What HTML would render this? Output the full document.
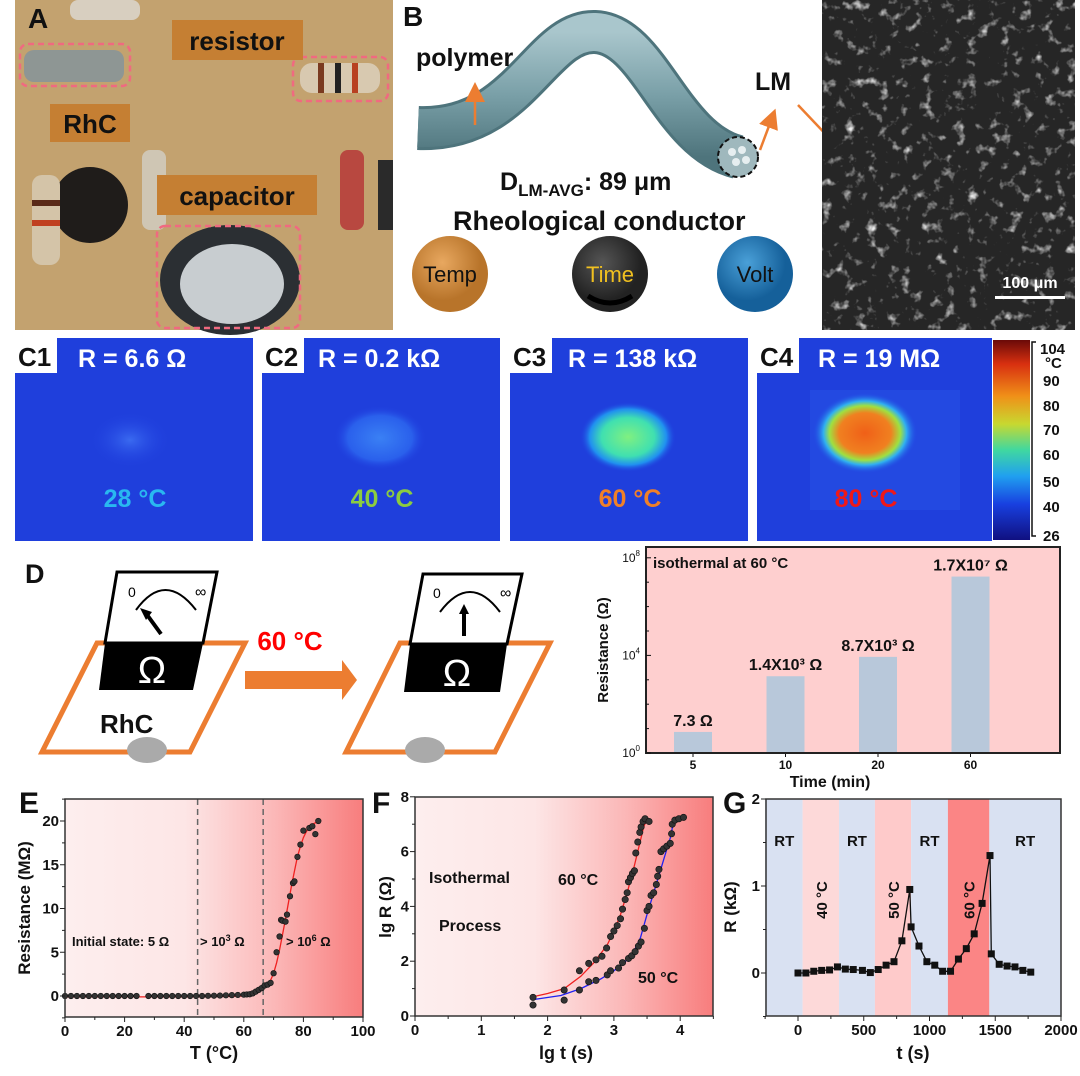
<!DOCTYPE html>
<html><head><meta charset="utf-8"><style>
html,body{margin:0;padding:0;background:#fff;}
svg text{font-family:"Liberation Sans",sans-serif;}
</style></head><body>
<svg id="fig" width="1080" height="1071" viewBox="0 0 1080 1071" xmlns="http://www.w3.org/2000/svg">
<defs>
<linearGradient id="heatBg" x1="0" x2="1" y1="0" y2="0">
<stop offset="0" stop-color="#fdeeee"/><stop offset="0.4" stop-color="#fde6e6"/><stop offset="0.7" stop-color="#fbb8b8"/><stop offset="1" stop-color="#f87d7d"/></linearGradient>
<linearGradient id="cbar" x1="0" x2="0" y1="0" y2="1">
<stop offset="0" stop-color="#6a0a08"/><stop offset="0.12" stop-color="#d83010"/><stop offset="0.28" stop-color="#f09018"/><stop offset="0.42" stop-color="#c8d830"/><stop offset="0.55" stop-color="#40d8a0"/><stop offset="0.68" stop-color="#20a0f0"/><stop offset="0.82" stop-color="#1840e0"/><stop offset="1" stop-color="#101080"/></linearGradient>
<radialGradient id="spot3"><stop offset="0" stop-color="#80f080"/><stop offset="0.55" stop-color="#40e0b0"/><stop offset="0.8" stop-color="#2090f0"/><stop offset="1" stop-color="#2040e0" stop-opacity="0"/></radialGradient>
<radialGradient id="spot4"><stop offset="0" stop-color="#f06018"/><stop offset="0.5" stop-color="#f08020"/><stop offset="0.68" stop-color="#a0e040"/><stop offset="0.8" stop-color="#30b0f0"/><stop offset="1" stop-color="#2050e8" stop-opacity="0"/></radialGradient>
<radialGradient id="spotFaint"><stop offset="0" stop-color="#3a6af0"/><stop offset="1" stop-color="#2040e0" stop-opacity="0"/></radialGradient>
<radialGradient id="spotMid"><stop offset="0" stop-color="#3a80f4"/><stop offset="0.7" stop-color="#2a60ec"/><stop offset="1" stop-color="#2040e0" stop-opacity="0"/></radialGradient>
<radialGradient id="ballO" cx="0.4" cy="0.35"><stop offset="0" stop-color="#e8a860"/><stop offset="1" stop-color="#b8742a"/></radialGradient>
<radialGradient id="ballK" cx="0.4" cy="0.35"><stop offset="0" stop-color="#555"/><stop offset="1" stop-color="#222"/></radialGradient>
<radialGradient id="ballB" cx="0.4" cy="0.35"><stop offset="0" stop-color="#4aa0d8"/><stop offset="1" stop-color="#15609a"/></radialGradient>
<linearGradient id="tube" x1="0" x2="0" y1="0" y2="1"><stop offset="0" stop-color="#a9c6cc"/><stop offset="0.5" stop-color="#7aa0a8"/><stop offset="1" stop-color="#4e747c"/></linearGradient>
<filter id="semTex" filterUnits="userSpaceOnUse" x="822" y="0" width="253" height="330"><feTurbulence type="fractalNoise" baseFrequency="0.09" numOctaves="3" seed="4"/><feColorMatrix type="matrix" values="0 0 0 0 0.85  0 0 0 0 0.85  0 0 0 0 0.85  3 0 0 0 -1.75"/></filter>
<clipPath id="semClip"><rect x="822" y="0" width="253" height="330"/></clipPath>
<marker id="arrO" markerWidth="8" markerHeight="8" refX="4" refY="4" orient="auto"><path d="M0,0 L8,4 L0,8 Z" fill="#ec7d31"/></marker>
</defs>

<!-- Panel A photo -->
<g>
<rect x="15" y="0" width="378" height="330" fill="#c9aa78"/>
<rect x="15" y="0" width="378" height="330" fill="#b8955e" opacity="0.35"/>
<rect x="70" y="0" width="70" height="20" rx="8" fill="#d8cfc0"/>
<rect x="24" y="50" width="100" height="32" rx="10" fill="#8e9694"/>
<rect x="300" y="63" width="80" height="30" rx="12" fill="#d8c9b0"/>
<rect x="318" y="63" width="6" height="30" fill="#7a3a20"/><rect x="335" y="63" width="6" height="30" fill="#222"/><rect x="352" y="63" width="6" height="30" fill="#b84020"/>
<circle cx="90" cy="205" r="38" fill="#1f1c1a"/>
<rect x="32" y="175" width="28" height="90" rx="10" fill="#d4c4a8"/>
<rect x="32" y="200" width="28" height="6" fill="#5a2a18"/><rect x="32" y="220" width="28" height="6" fill="#c04020"/>
<rect x="142" y="150" width="24" height="80" rx="8" fill="#cfc6b4"/>
<ellipse cx="230" cy="280" rx="70" ry="55" fill="#2b2f33"/>
<ellipse cx="232" cy="284" rx="52" ry="40" fill="#c8cdd0"/>
<rect x="340" y="150" width="24" height="80" rx="8" fill="#b84840"/>
<rect x="378" y="160" width="15" height="70" fill="#2a2a2a"/>
<rect x="20" y="44" width="110" height="42" rx="8" fill="none" stroke="#f06a80" stroke-width="2.5" stroke-dasharray="6,4"/>
<rect x="293" y="57" width="95" height="44" rx="8" fill="none" stroke="#f06a80" stroke-width="2.5" stroke-dasharray="6,4"/>
<rect x="157" y="226" width="143" height="102" rx="8" fill="none" stroke="#f06a80" stroke-width="2.5" stroke-dasharray="6,4"/>
<rect x="172" y="20" width="131" height="40" fill="#c57f33"/>
<text x="237" y="50" font-size="26" font-weight="bold" text-anchor="middle" fill="#111">resistor</text>
<rect x="50" y="104" width="80" height="38" fill="#c57f33"/>
<text x="90" y="133" font-size="26" font-weight="bold" text-anchor="middle" fill="#111">RhC</text>
<rect x="157" y="175" width="160" height="40" fill="#c57f33"/>
<text x="237" y="205" font-size="26" font-weight="bold" text-anchor="middle" fill="#111">capacitor</text>
<text x="28" y="28" font-size="28" font-weight="bold" fill="#111">A</text>
</g>

<!-- Panel B -->
<g>
<text x="403" y="26" font-size="28" font-weight="bold" fill="#111">B</text>
<path d="M418,128 C520,132 540,30 595,32 C650,34 670,140 738,157" fill="none" stroke="#4e747c" stroke-width="44"/>
<path d="M418,128 C520,132 540,30 595,32 C650,34 670,140 738,157" fill="none" stroke="url(#tube)" stroke-width="38"/>
<text x="416" y="66" font-size="25" font-weight="bold" fill="#111">polymer</text>
<circle cx="738" cy="157" r="20" fill="#9fb8bd" stroke="#111" stroke-width="2" stroke-dasharray="5,3"/>
<circle cx="732" cy="152" r="4" fill="#e6eef0"/><circle cx="742" cy="150" r="4" fill="#e6eef0"/><circle cx="736" cy="162" r="4" fill="#e6eef0"/><circle cx="746" cy="160" r="4" fill="#e6eef0"/>
<line x1="475" y1="125" x2="475" y2="92" stroke="#ec7d31" stroke-width="2.5" marker-end="url(#arrO)"/>
<line x1="760" y1="150" x2="772" y2="118" stroke="#ec7d31" stroke-width="2.5" marker-end="url(#arrO)"/>
<text x="755" y="90" font-size="25" font-weight="bold" fill="#111">LM</text>
<line x1="798" y1="105" x2="852" y2="162" stroke="#ec7d31" stroke-width="2.5"/>
<text x="500" y="190" font-size="25" font-weight="bold" fill="#111">D<tspan font-size="17" dy="6">LM-AVG</tspan><tspan dy="-6">: 89 μm</tspan></text>
<text x="453" y="230" font-size="27" font-weight="bold" fill="#111">Rheological conductor</text>
<circle cx="450" cy="274" r="38" fill="url(#ballO)"/>
<text x="450" y="282" font-size="22" text-anchor="middle" fill="#111">Temp</text>
<circle cx="610" cy="274" r="38" fill="url(#ballK)"/>
<path d="M588,296 Q610,310 632,296" stroke="#000" stroke-width="5" fill="none"/>
<text x="610" y="282" font-size="22" text-anchor="middle" fill="#f0c020">Time</text>
<circle cx="755" cy="274" r="38" fill="url(#ballB)"/>
<text x="755" y="282" font-size="22" text-anchor="middle" fill="#111">Volt</text>
</g>
<g clip-path="url(#semClip)">
<rect x="822" y="0" width="253" height="330" fill="#262626"/>
<rect x="822" y="0" width="253" height="330" filter="url(#semTex)"/>
<rect x="995" y="296" width="70" height="3" fill="#fff"/>
<text x="1030" y="288" font-size="16" font-weight="bold" fill="#fff" text-anchor="middle">100 μm</text>
</g>

<!-- Panel C thermal -->
<g>
<rect x="15" y="338" width="238" height="203" fill="#1f3fdc"/>
<ellipse cx="130" cy="440" rx="40" ry="28" fill="url(#spotFaint)"/>
<rect x="262" y="338" width="238" height="203" fill="#1f3fdc"/>
<ellipse cx="380" cy="438" rx="46" ry="32" fill="url(#spotMid)"/>
<rect x="510" y="338" width="238" height="203" fill="#1f3fdc"/>
<ellipse cx="628" cy="437" rx="48" ry="35" fill="url(#spot3)"/>
<rect x="757" y="338" width="235" height="203" fill="#1f3fdc"/>
<rect x="810" y="390" width="150" height="120" fill="#2a5ae8" opacity="0.4"/>
<ellipse cx="865" cy="433" rx="52" ry="40" fill="url(#spot4)"/>
<rect x="993" y="340" width="37" height="200" fill="url(#cbar)"/>
<g font-size="15" font-weight="bold" fill="#111">
<text x="1040" y="354">104</text><text x="1045" y="368">°C</text><text x="1043" y="386">90</text><text x="1043" y="411">80</text><text x="1043" y="435">70</text><text x="1043" y="460">60</text><text x="1043" y="487">50</text><text x="1043" y="512">40</text><text x="1043" y="541">26</text>
</g>
<path d="M1036,342 h-4 v194 h4" stroke="#111" fill="none" stroke-width="1.5"/>
<rect x="15" y="338" width="42" height="35" fill="#fff"/><text x="18" y="366" font-size="26" font-weight="bold" fill="#111">C1</text>
<rect x="262" y="338" width="42" height="35" fill="#fff"/><text x="265" y="366" font-size="26" font-weight="bold" fill="#111">C2</text>
<rect x="510" y="338" width="42" height="35" fill="#fff"/><text x="513" y="366" font-size="26" font-weight="bold" fill="#111">C3</text>
<rect x="757" y="338" width="42" height="35" fill="#fff"/><text x="760" y="366" font-size="26" font-weight="bold" fill="#111">C4</text>
<g font-size="25" font-weight="bold" fill="#fff">
<text x="78" y="367">R = 6.6 Ω</text><text x="318" y="367">R = 0.2 kΩ</text><text x="568" y="367">R = 138 kΩ</text><text x="818" y="367">R = 19 MΩ</text>
</g>
<g font-size="25" font-weight="bold" text-anchor="middle">
<text x="135" y="507" fill="#29b8f0">28 °C</text><text x="382" y="507" fill="#8ccc40">40 °C</text><text x="630" y="507" fill="#f08028">60 °C</text><text x="866" y="507" fill="#f01818">80 °C</text>
</g>
</g>

<!-- Panel D schematic -->
<g>
<text x="25" y="583" font-size="27" font-weight="bold" fill="#111">D</text>
<path d="M42,752 L97,643 L245,643 L190,752 Z" fill="none" stroke="#ec7d31" stroke-width="5"/>
<path d="M117,572 L217,572 L203,643 L105,643 Z" fill="#fff" stroke="#000" stroke-width="3"/>
<path d="M105,643 L203,643 L193,690 L99,690 Z" fill="#000"/>
<text x="152" y="683" font-size="38" fill="#fff" text-anchor="middle">Ω</text>
<path d="M136,610 Q165,570 196,610" fill="none" stroke="#000" stroke-width="2"/>
<line x1="161" y1="634" x2="145" y2="612" stroke="#000" stroke-width="4"/>
<path d="M140,608 L146,620 L152,612 Z" fill="#000"/>
<text x="128" y="597" font-size="14" fill="#000">0</text><text x="195" y="597" font-size="16" fill="#000">∞</text>
<text x="100" y="733" font-size="26" font-weight="bold" fill="#111">RhC</text>
<ellipse cx="147" cy="750" rx="20" ry="13" fill="#aaa"/>
<text x="290" y="650" font-size="26" font-weight="bold" fill="#f00" text-anchor="middle">60 °C</text>
<path d="M245,671 L342,671 L342,660 L357,680 L342,700 L342,689 L245,689 Z" fill="#ec7d31"/>
<path d="M346,752 L400,643 L550,643 L495,752 Z" fill="none" stroke="#ec7d31" stroke-width="5"/>
<path d="M423,574 L522,574 L507,644 L410,644 Z" fill="#fff" stroke="#000" stroke-width="3"/>
<path d="M410,644 L507,644 L500,692 L404,692 Z" fill="#000"/>
<text x="457" y="686" font-size="38" fill="#fff" text-anchor="middle">Ω</text>
<path d="M440,612 Q470,572 500,612" fill="none" stroke="#000" stroke-width="2"/>
<line x1="464" y1="636" x2="464" y2="612" stroke="#000" stroke-width="4"/>
<path d="M459,614 L464,604 L469,614 Z" fill="#000"/>
<text x="433" y="598" font-size="14" fill="#000">0</text><text x="500" y="598" font-size="16" fill="#000">∞</text>
<ellipse cx="425" cy="750" rx="20" ry="13" fill="#aaa"/>
</g>

<g id="chartD"></g>
<g id="chartE"></g>
<g id="chartF"></g>
<g id="chartG"></g>
</svg>
<script>
// ===== Chart D data =====
const dCategories = ["5","10","20","60"];
const dValues = [7.3, 1400, 8700, 17000000];
const dLabels = ["7.3 Ω","1.4X10³ Ω","8.7X10³ Ω","1.7X10⁷ Ω"];
const dTickExp = [0,4,8];
// ===== Chart E data =====
const eTemps = [0,2,4,6,8,10,12,14,16,18,20,22,24,28,30,32,34,36,38,40,42,44,46,48,50,52,54,56,58,60,61,62,63,64,65,66,67,68,69,70,71,72,72.5,73,74,74.5,75.5,76.5,77,78,79,80,82,83,84,85];
const eRes = [0,0,0,0,0,0,0,0,0,0,0,0,0,0,0,0,0,0,0,0,0,0,0,0.02,0.03,0.05,0.08,0.1,0.12,0.15,0.18,0.2,0.3,0.5,0.7,0.9,1.2,1.3,1.5,2.6,5.0,6.8,8.7,8.6,8.5,9.3,11.4,12.9,13.1,15.9,17.3,18.9,19.2,19.4,18.5,20.0];
const eFitT = [0,40,55,60,63,65,67,69,70,71,72,73,74,75,76,77,78,79,80,81,82,83,84,85];
const eFitR = [-0.1,-0.1,-0.05,0,0.2,0.6,1.1,1.8,2.6,3.8,5.3,7.0,8.8,10.7,12.6,14.3,15.9,17.1,18.1,18.8,19.3,19.6,19.8,20.0];
const eXTicks = [0,20,40,60,80,100];
const eYTicks = [0,5,10,15,20];
const eDashed = [44.5,66.5];
// ===== Chart F data =====
const f60T = [1.78,2.25,2.48,2.62,2.73,2.82,2.89,2.95,3.0,3.05,3.1,3.13,3.17,3.2,3.22,3.25,3.28,3.31,3.33,3.36,3.39,3.41,3.44,3.47,3.53];
const f60R = [0.68,0.95,1.65,1.92,2.05,2.18,2.48,2.9,3.1,3.3,3.55,3.9,4.25,4.5,4.9,5.05,5.2,5.3,5.95,6.35,6.7,6.9,7.1,7.2,7.1];
const f50T = [1.78,2.25,2.48,2.62,2.73,2.9,2.95,3.07,3.13,3.22,3.27,3.32,3.37,3.41,3.46,3.5,3.53,3.56,3.6,3.64,3.66,3.68,3.71,3.75,3.8,3.85,3.87,3.88,3.92,3.98,4.05];
const f50R = [0.4,0.58,0.95,1.25,1.3,1.5,1.65,1.75,1.95,2.1,2.2,2.35,2.55,2.7,3.2,3.85,4.0,4.4,4.5,4.8,5.1,5.35,6.0,6.1,6.2,6.3,6.65,7.0,7.15,7.2,7.25];
const f60FitT = [1.78,2.0,2.25,2.5,2.7,2.9,3.0,3.1,3.2,3.3,3.4,3.45,3.5];
const f60FitR = [0.7,0.82,1.0,1.45,1.95,2.6,3.1,3.7,4.5,5.4,6.4,6.9,7.2];
const f50FitT = [1.78,2.2,2.5,2.8,3.0,3.2,3.3,3.4,3.5,3.6,3.7,3.8,3.85,3.9,4.0,4.07];
const f50FitR = [0.6,0.75,1.0,1.35,1.65,2.05,2.35,2.85,3.7,4.5,5.3,6.1,6.5,7.1,7.2,7.25];
const fXTicks = [0,1,2,3,4];
const fYTicks = [0,2,4,6,8];
// ===== Chart G data =====
const gTime = [0,60,120,180,240,300,360,420,490,550,610,670,730,790,850,860,920,980,1040,1100,1160,1220,1280,1340,1400,1460,1470,1530,1590,1650,1710,1770];
const gRes = [0,0,0.02,0.03,0.035,0.07,0.045,0.04,0.03,0.005,0.04,0.09,0.13,0.37,0.96,0.53,0.31,0.13,0.09,0.02,0.02,0.16,0.28,0.45,0.8,1.35,0.22,0.1,0.08,0.07,0.03,0.01];
const gBandStart = [-250,35,312,585,860,1140,1455];
const gBandEnd = [35,312,585,860,1140,1455,2000];
const gBandLabel = ["RT","40 °C","RT","50 °C","RT","60 °C","RT"];
const gBandColor = ["#d9e1f2","#fdd9d9","#d9e1f2","#fecaca","#d9e1f2","#fb8585","#d9e1f2"];
const gXTicks = [0,500,1000,1500,2000];
const gYTicks = [0,1,2];

const NS="http://www.w3.org/2000/svg";
function mk(parent,tag,attrs,txt){const e=document.createElementNS(NS,tag);for(const k in attrs)e.setAttribute(k,attrs[k]);if(txt!==undefined)e.textContent=txt;parent.appendChild(e);return e;}

// ---- Chart D ----
(function(){
const g=document.getElementById('chartD');
const L=646,R=1060,T=547,B=753;
const yD=v=>B-Math.log10(v)*24.4;
const yE=e=>B-e*24.4;
const xD=i=>693+i*92.5;
const bg=mk(g,'rect',{x:L,y:T,width:R-L,height:B-T,fill:'#fecfcf'});


dValues.forEach((v,i)=>{
 const b=mk(g,'rect',{x:xD(i)-19,y:yD(v),width:38,height:B-yD(v),fill:'#b8c8da'});
 
 
 const t=mk(g,'text',{x:xD(i),y:yD(v)-6,'font-size':16,'font-weight':'bold','text-anchor':'middle',fill:'#111'},dLabels[i]);
 
 
 const c=mk(g,'text',{x:xD(i),y:B+16,'font-size':12,'font-weight':'bold','text-anchor':'middle',fill:'#111'},dCategories[i]);
 
 
 mk(g,'line',{x1:xD(i),x2:xD(i),y1:B,y2:B+4,stroke:'#111','stroke-width':1});
});
mk(g,'rect',{x:L,y:T,width:R-L,height:B-T,fill:'none',stroke:'#222','stroke-width':2});
for(let e=0;e<=8;e++){mk(g,'line',{x1:L,x2:L+(e%4===0?5:3),y1:yE(e),y2:yE(e),stroke:'#111'});}
dTickExp.forEach(e=>{const t=mk(g,'text',{x:L-6,y:yE(e)+4,'font-size':12,'text-anchor':'end',fill:'#111'});


mk(t,'tspan',{},'10');mk(t,'tspan',{dy:-6,'font-size':8},String(e));});
const it=mk(g,'text',{x:653,y:568,'font-size':15,'font-weight':'bold',fill:'#111'},'isothermal at 60 °C');


const yt=mk(g,'text',{x:608,y:650,'font-size':15,'font-weight':'bold','text-anchor':'middle',fill:'#111',transform:'rotate(-90 608 650)'},'Resistance (Ω)');


const xt=mk(g,'text',{x:830,y:787,'font-size':16,'font-weight':'bold','text-anchor':'middle',fill:'#111'},'Time (min)');


})();

function axesCommon(g,L,R,T,B,xs,ys,xTicks,yTicks,xMinor,yMinor){
 mk(g,'rect',{x:L,y:T,width:R-L,height:B-T,fill:'none',stroke:'#333','stroke-width':1.5});
 xTicks.forEach(v=>{mk(g,'line',{x1:xs(v),x2:xs(v),y1:B,y2:B+5,stroke:'#222'});
  const t=mk(g,'text',{x:xs(v),y:B+19,'font-size':15,'font-weight':'bold','text-anchor':'middle',fill:'#111'},String(v));
  
  });
 xMinor.forEach(v=>mk(g,'line',{x1:xs(v),x2:xs(v),y1:B,y2:B+3,stroke:'#222'}));
 yTicks.forEach(v=>{mk(g,'line',{x1:L-5,x2:L,y1:ys(v),y2:ys(v),stroke:'#222'});
  const t=mk(g,'text',{x:L-6,y:ys(v)+5,'font-size':15,'font-weight':'bold','text-anchor':'end',fill:'#111'},String(v));
  
  });
 yMinor.forEach(v=>mk(g,'line',{x1:L-3,x2:L,y1:ys(v),y2:ys(v),stroke:'#222'}));
}
function path(xs,ys,X,Y){return X.map((v,i)=>(i?'L':'M')+xs(v).toFixed(1)+','+ys(Y[i]).toFixed(1)).join(' ');}

// ---- Chart E ----
(function(){
const g=document.getElementById('chartE');
const L=65,R=363,T=799,B=1017;
const xs=v=>L+v*2.98, ys=v=>996-v*8.75;
mk(g,'rect',{x:L,y:T,width:R-L,height:B-T,fill:'url(#heatBg)'});
eDashed.forEach(v=>{const d=mk(g,'line',{x1:xs(v),x2:xs(v),y1:T,y2:B,stroke:'#666','stroke-width':1.5,'stroke-dasharray':'6,4'});

});
const fit=mk(g,'path',{d:path(xs,ys,eFitT,eFitR),fill:'none',stroke:'#f02020','stroke-width':1.3});


eTemps.forEach((v,i)=>{const c=mk(g,'circle',{cx:xs(v),cy:ys(eRes[i]),r:2.8,fill:'#333',stroke:'#111','stroke-width':0.6});

});
axesCommon(g,L,R,T,B,xs,ys,eXTicks,eYTicks,[10,30,50,70,90],[-2.5,2.5,7.5,12.5,17.5,22.5]);
const a1=mk(g,'text',{x:72,y:946,'font-size':13,'font-weight':'bold',fill:'#111'},'Initial state: 5 Ω');


const a2=mk(g,'text',{x:200,y:946,'font-size':13,'font-weight':'bold',fill:'#111'});


mk(a2,'tspan',{},'> 10');mk(a2,'tspan',{dy:-5,'font-size':9},'3');mk(a2,'tspan',{dy:5},' Ω');
const a3=mk(g,'text',{x:286,y:946,'font-size':13,'font-weight':'bold',fill:'#111'});


mk(a3,'tspan',{},'> 10');mk(a3,'tspan',{dy:-5,'font-size':9},'6');mk(a3,'tspan',{dy:5},' Ω');
const yt=mk(g,'text',{x:30,y:908,'font-size':17,'font-weight':'bold','text-anchor':'middle',fill:'#111',transform:'rotate(-90 30 908)'},'Resistance (MΩ)');


const xt=mk(g,'text',{x:214,y:1059,'font-size':18,'font-weight':'bold','text-anchor':'middle',fill:'#111'},'T (°C)');


const pl=mk(g,'text',{x:19,y:813,'font-size':30,'font-weight':'bold',fill:'#111'},'E');


})();

// ---- Chart F ----
(function(){
const g=document.getElementById('chartF');
const L=415,R=713,T=797,B=1016;
const xs=v=>L+v*66.3, ys=v=>B-v*27.4;
mk(g,'rect',{x:L,y:T,width:R-L,height:B-T,fill:'url(#heatBg)'});
const c60=mk(g,'path',{d:path(xs,ys,f60FitT,f60FitR),fill:'none',stroke:'#f02020','stroke-width':1.3});


const c50=mk(g,'path',{d:path(xs,ys,f50FitT,f50FitR),fill:'none',stroke:'#2020f0','stroke-width':1.3});


f60T.forEach((v,i)=>{const c=mk(g,'circle',{cx:xs(v),cy:ys(f60R[i]),r:3.2,fill:'#333',stroke:'#111','stroke-width':0.6});

});
f50T.forEach((v,i)=>{const c=mk(g,'circle',{cx:xs(v),cy:ys(f50R[i]),r:3.2,fill:'#333',stroke:'#111','stroke-width':0.6});

});
axesCommon(g,L,R,T,B,xs,ys,fXTicks,fYTicks,[0.5,1.5,2.5,3.5,4.5],[1,3,5,7]);
[['Isothermal',429,883,'annotation-isothermal'],['Process',439,931,'annotation-process'],['60 °C',558,885,'label-60c'],['50 °C',638,983,'label-50c']].forEach(a=>{
 const t=mk(g,'text',{x:a[1],y:a[2],'font-size':16,'font-weight':'bold',fill:'#111'},a[0]);
 
 });
const yt=mk(g,'text',{x:391,y:907,'font-size':17,'font-weight':'bold','text-anchor':'middle',fill:'#111',transform:'rotate(-90 391 907)'},'lg R (Ω)');


const xt=mk(g,'text',{x:566,y:1059,'font-size':18,'font-weight':'bold','text-anchor':'middle',fill:'#111'},'lg t (s)');


const pl=mk(g,'text',{x:372,y:813,'font-size':30,'font-weight':'bold',fill:'#111'},'F');


})();

// ---- Chart G ----
(function(){
const g=document.getElementById('chartG');
const L=766,R=1061,T=799,B=1016;
const xs=v=>798+v*0.1315, ys=v=>973-v*87;
gBandStart.forEach((s,i)=>{
 const r=mk(g,'rect',{x:xs(s),y:T,width:xs(gBandEnd[i])-xs(s),height:B-T,fill:gBandColor[i]});
 
 
 const cx=(xs(s)+xs(gBandEnd[i]))/2;
 let t;
 if(gBandLabel[i]==='RT'){
  const x = i===0 ? (L+xs(gBandEnd[i]))/2 : cx;
  t=mk(g,'text',{x:x,y:846,'font-size':15,'font-weight':'bold','text-anchor':'middle',fill:'#111'},'RT');
 } else {
  t=mk(g,'text',{x:cx+6,y:900,'font-size':15,'font-weight':'bold','text-anchor':'middle',fill:'#111',transform:'rotate(-90 '+(cx+6)+' 900)'},gBandLabel[i]);
 }
 
 
});
const ln=mk(g,'path',{d:path(xs,ys,gTime,gRes),fill:'none',stroke:'#111','stroke-width':1.3});


gTime.forEach((v,i)=>{const p=mk(g,'rect',{x:xs(v)-3.5,y:ys(gRes[i])-3.5,width:7,height:7,fill:'#111'});

});
axesCommon(g,L,R,T,B,xs,ys,gXTicks,gYTicks,[-250,250,750,1250,1750],[-0.5,0.5,1.5]);
const yt=mk(g,'text',{x:736,y:907,'font-size':17,'font-weight':'bold','text-anchor':'middle',fill:'#111',transform:'rotate(-90 736 907)'},'R (kΩ)');


const xt=mk(g,'text',{x:913,y:1059,'font-size':18,'font-weight':'bold','text-anchor':'middle',fill:'#111'},'t (s)');


const pl=mk(g,'text',{x:723,y:813,'font-size':30,'font-weight':'bold',fill:'#111'},'G');


})();
</script>
</body></html>
